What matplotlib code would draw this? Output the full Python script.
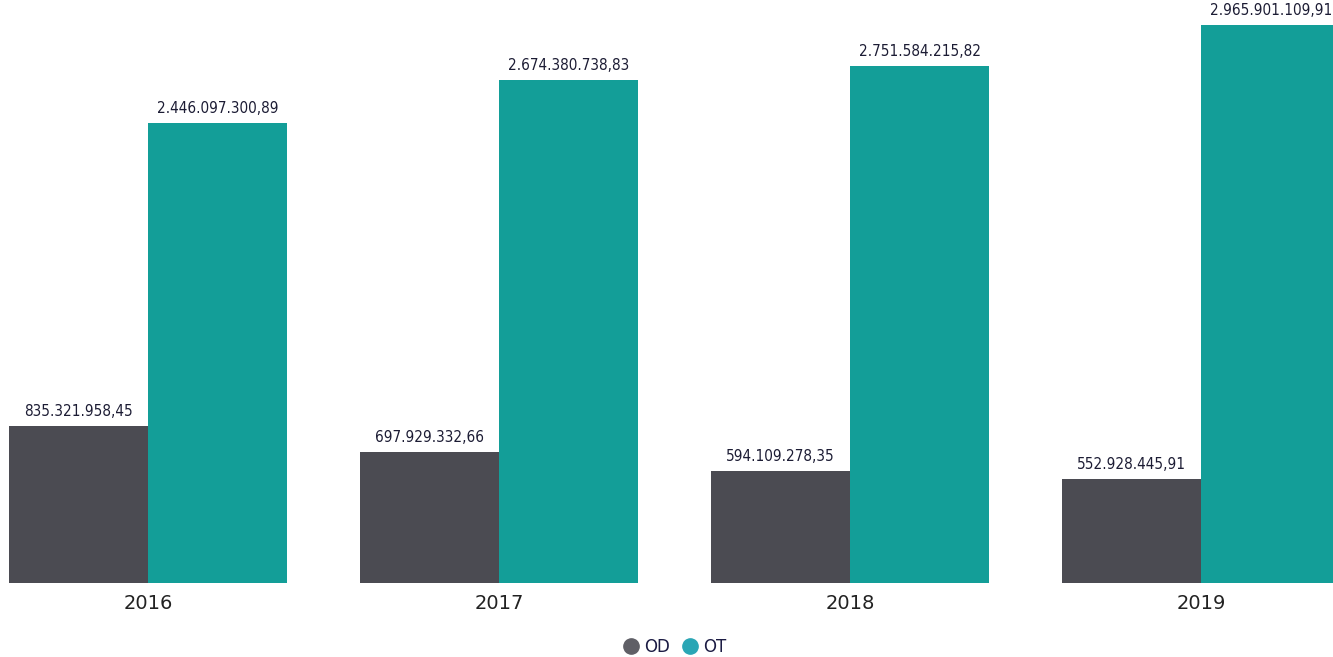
import numpy as np
import matplotlib.pyplot as plt

# dati
anni = ["2016", "2017", "2018", "2019"]
od = [835321958.45, 697929332.66, 594109278.35, 552928445.91]
ot = [2446097300.89, 2674380738.83, 2751584215.82, 2965901109.91]
od_lab = ["835.321.958,45", "697.929.332,66", "594.109.278,35", "552.928.445,91"]
ot_lab = ["2.446.097.300,89", "2.674.380.738,83", "2.751.584.215,82", "2.965.901.109,91"]

col_od = "#4b4b52"
col_ot = "#139e98"

fig = plt.figure(figsize=(13.33, 6.57), dpi=100)
fig.set_facecolor("white")
ax = fig.add_axes([0, 0.1126, 1, 0.8874])

x = np.arange(len(anni))
w = 0.397
b1 = ax.bar(x - w / 2, od, w, color=col_od, label="OD")
b2 = ax.bar(x + w / 2, ot, w, color=col_ot, label="OT")

for rect, t in zip(list(b1) + list(b2), od_lab + ot_lab):
    ax.annotate(t, (rect.get_x() + rect.get_width() / 2, rect.get_height()),
                xytext=(0, 5), textcoords="offset points", ha="center", va="bottom",
                fontsize=11, color="#1c1c34", family="DejaVu Sans", annotation_clip=False,
                clip_on=False, stretch="condensed", fontweight="medium")

ax.set_xlim(-0.4217, 3.376)
ax.set_ylim(0, 3.10e9)
ax.set_xticks(x)
ax.set_xticklabels(anni, fontsize=14, color="#222222")
ax.tick_params(axis="x", length=0, pad=8)
ax.set_yticks([])
for s in ax.spines.values():
    s.set_visible(False)

# legenda in basso
fig.legend(handles=[
    plt.Line2D([], [], marker="o", ls="", markersize=11, color="#5f5f66", label="OD"),
    plt.Line2D([], [], marker="o", ls="", markersize=11, color="#2aa6b5", label="OT")],
    loc="center", bbox_to_anchor=(0.503, 0.015), ncol=2, frameon=False,
    handletextpad=-0.2, columnspacing=0.2, fontsize=12, labelcolor="#1c1c44")

fig.savefig("out.png", dpi=100)
